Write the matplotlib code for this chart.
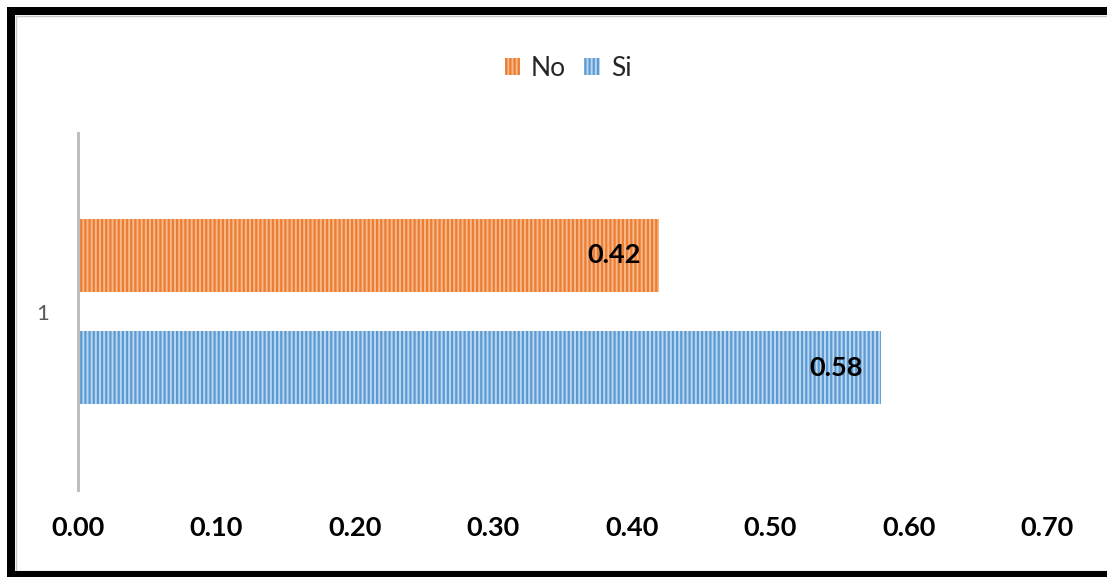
import matplotlib
matplotlib.use("Agg")
import matplotlib.pyplot as plt
from matplotlib.patches import Patch
from matplotlib.lines import Line2D
import numpy as np

categories = ["1"]
series_names = ["No", "Si"]
no_values = [0.42]
si_values = [0.58]
xticks = [0.00, 0.10, 0.20, 0.30, 0.40, 0.50, 0.60, 0.70]

orange = "#ED7D31"
orange_light = "#F6B88C"
blue = "#5B9BD5"
blue_light = "#BCD6EE"

plt.rcParams['font.family'] = ['Lato', 'DejaVu Sans']
plt.rcParams['hatch.linewidth'] = 1.6

W, H = 1107, 577
fig = plt.figure(figsize=(W / 100, H / 100), dpi=100)
ax = fig.add_axes([78 / W, 1 - 490 / H, (1047 - 78) / W, (490 - 133) / H])

y = np.arange(len(categories))
bh = 0.207
off = 0.157
bars_no = ax.barh(y + off, no_values, height=bh, color=orange_light,
                  edgecolor=orange, linewidth=0, hatch='||||')
bars_si = ax.barh(y - off, si_values, height=bh, color=blue_light,
                  edgecolor=blue, linewidth=0, hatch='||||')

for bars, vals in ((bars_no, no_values), (bars_si, si_values)):
    for b, v in zip(bars, vals):
        ax.annotate(f"{v:.2f}", (v, b.get_y() + b.get_height() / 2),
                    xytext=(-13, 0), textcoords='offset points',
                    ha='right', va='center', fontsize=19.5, fontweight='bold',
                    color='black')

ax.set_xlim(0, 0.70)
ax.set_ylim(-0.5, 0.5)
ax.set_xticks(xticks)
ax.set_xticklabels([f"{t:.2f}" for t in xticks], fontsize=19.5, fontweight='bold')
ax.set_yticks(y)
ax.set_yticklabels(categories, fontsize=16, color='#595959')
ax.tick_params(axis='x', length=0, pad=19)
ax.tick_params(axis='y', length=0, pad=21)
for s in ('top', 'right', 'bottom'):
    ax.spines[s].set_visible(False)
ax.spines['left'].set_color('#BFBFBF')
ax.spines['left'].set_linewidth(2.2)

handles = [Patch(facecolor=orange_light, edgecolor=orange, linewidth=0, hatch='||||'),
           Patch(facecolor=blue_light, edgecolor=blue, linewidth=0, hatch='||||')]
fig.legend(handles, series_names, loc='center', bbox_to_anchor=(568 / W, 1 - 68 / H),
           ncol=2, frameon=False, fontsize=19, handlelength=0.6, handleheight=0.6,
           handletextpad=0.4, columnspacing=0.7, labelcolor='#262626')

# outer frame: left, top and bottom edges only (right edge lies beyond the image)
def fline(xs, ys, **kw):
    fig.add_artist(Line2D([x / W for x in xs], [1 - v / H for v in ys],
                          transform=fig.transFigure, **kw))

blk = dict(color='black', linewidth=8 * 0.72, solid_capstyle='projecting', zorder=10)
fline([11, 11], [11, 575], **blk)
fline([11, 1120], [11, 11], **blk)
fline([11, 1120], [575, 575], **blk)
gry = dict(color='#C8C8C8', linewidth=1.0, zorder=9)
fline([15.5, 15.5], [15.5, 571], **gry)
fline([15.5, 1120], [15.5, 15.5], **gry)
fline([15.5, 1120], [571, 571], **gry)

fig.savefig("out.png", dpi=100)
